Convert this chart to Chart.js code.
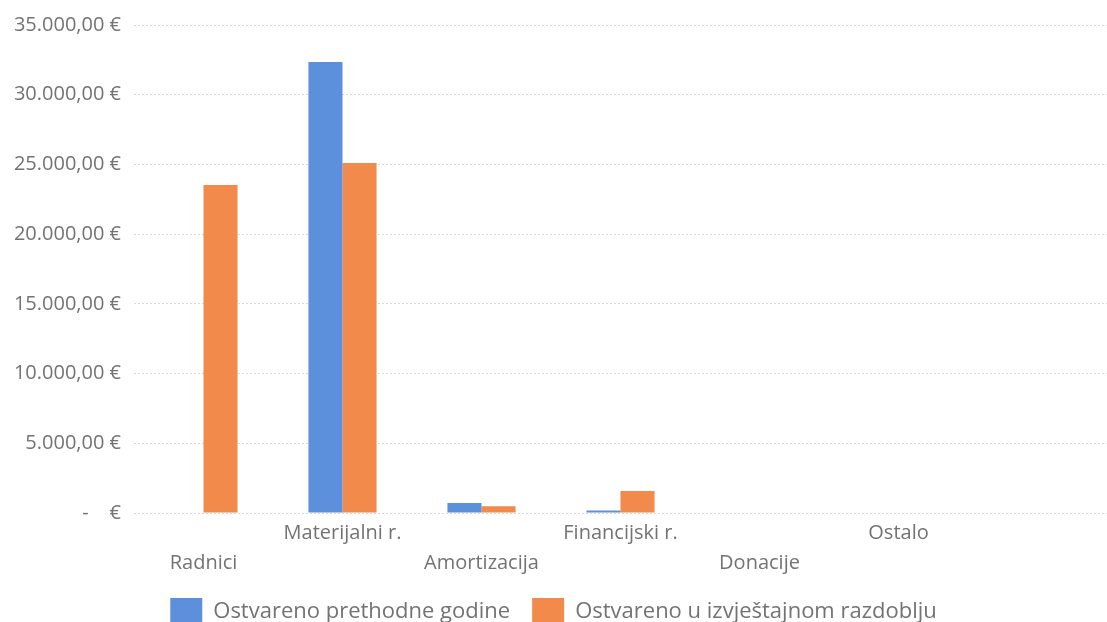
<!DOCTYPE html>
<html>
<head>
<meta charset="utf-8">
<script src="https://cdn.jsdelivr.net/npm/chart.js@4"></script>
<style>
    body { margin: 0; background: #fff; overflow: hidden; }
    #wrap { position: relative; width: 1107px; height: 622px; overflow: hidden; }
    #wrap div { width: 1107px; height: 636px; }
</style>
</head>
<body>
<div id="wrap"><div><canvas id="bar-chart"></canvas></div></div>
<script>
// categories (last one is an empty slot, as in the original sheet)
var categories = ["Radnici", "Materijalni r.", "Amortizacija", "Financijski r.", "Donacije", "Ostalo", ""];
var prevYear = [0, 32350, 720, 180, 0, 0, null];
var thisPeriod = [23530, 25100, 480, 1580, 0, 0, null];
var seriesNames = ["Ostvareno prethodne godine", "Ostvareno u izvještajnom razdoblju"];
var yTicks = [0, 5000, 10000, 15000, 20000, 25000, 30000, 35000];

function formatEuro(v) {
    if (v === 0) return "-    €";
    var s = Math.round(v).toString().replace(/\B(?=(\d{3})+(?!\d))/g, ".");
    return s + ",00 €";
}

function staggered(label, i) {
    // even labels drop to the second line
    return i % 2 === 0 ? ["", label] : [label, ""];
}

document.addEventListener("DOMContentLoaded", function () {
    var Target = document.getElementById("bar-chart");
    var grey = "#737373";
    var fontFam = "'Open Sans', sans-serif";

    var Charts = new Chart(Target, {
        type: "bar",
        data: {
            labels: categories,
            datasets: [{
                label: seriesNames[0],
                data: prevYear,
                backgroundColor: "#5c8fdc",
                barPercentage: 1,
                categoryPercentage: 0.49
            }, {
                label: seriesNames[1],
                data: thisPeriod,
                backgroundColor: "#f28a4c",
                barPercentage: 1,
                categoryPercentage: 0.49
            }]
        },
        options: {
            animation: false,
            maintainAspectRatio: false,
            responsive: true,
            layout: {
                padding: { top: 11, left: 0, right: 0, bottom: 0 }
            },
            scales: {
                x: {
                    grid: { display: false, drawTicks: false },
                    border: { display: false },
                    afterFit: function (axis) { axis.height = 63; },
                    ticks: {
                        color: grey,
                        font: { family: fontFam, size: 20, lineHeight: 1.5 },
                        maxRotation: 0,
                        autoSkip: false,
                        padding: 5,
                        callback: function (val, i) {
                            return staggered(categories[i], i);
                        }
                    }
                },
                y: {
                    min: 0,
                    max: 35000,
                    afterBuildTicks: function (axis) {
                        axis.ticks = yTicks.map(function (v) { return { value: v }; });
                    },
                    afterFit: function (axis) { axis.width = 134; },
                    grid: {
                        color: "#d9d9d9",
                        drawTicks: false
                    },
                    border: { display: false, dash: [2, 2] },
                    ticks: {
                        color: grey,
                        font: { family: fontFam, size: 20 },
                        padding: 13,
                        callback: function (v) { return formatEuro(v); }
                    }
                }
            },
            plugins: {
                legend: {
                    display: true,
                    position: "bottom",
                    labels: {
                        color: grey,
                        boxWidth: 32,
                        boxHeight: 28,
                        padding: 22,
                        font: { family: fontFam, size: 22 }
                    }
                },
                tooltip: { enabled: false }
            }
        }
    });
});
</script>
</body>
</html>
